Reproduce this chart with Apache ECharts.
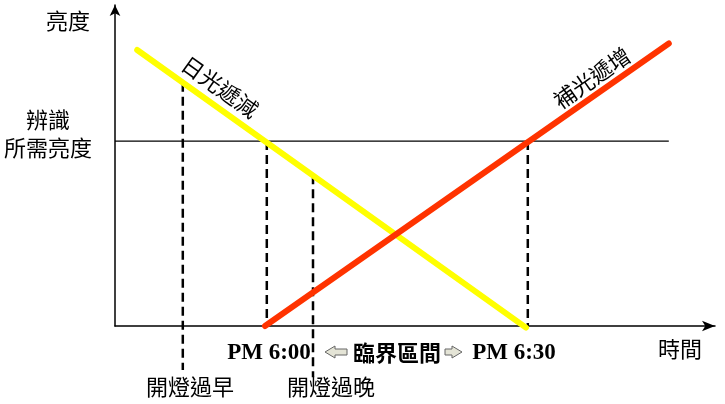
<!DOCTYPE html>
<html>
<head>
<meta charset="utf-8">
<script src="https://cdn.jsdelivr.net/npm/echarts@6/dist/echarts.min.js"></script>
<style>html,body{margin:0;padding:0;background:#fff;}#c{width:725px;height:404px;}</style>
</head>
<body>
<div id="c"></div>
<script>
// Conceptual units: time 0..100 (x), brightness 0..100 (y)
const daylight = [[3.7, 86], [68.5, -0.5]];      // 日光遞減
const supplement = [[25, 0], [92.3, 88]];        // 補光遞增
const requiredLevel = 57.6;                      // 辨識所需亮度
const thresholdEndX = 92.3;
const tooEarly = [[11.3, 75.8], [11.3, -13.7]];  // 開燈過早
const start600 = [[25.3, 57.6], [25.3, 0]];      // PM 6:00
const tooLate = [[33.0, 47.0], [33.0, -16]];     // 開燈過晚
const end630 = [[68.8, 57.6], [68.8, 0]];        // PM 6:30

const CJK = "'Noto Sans CJK TC','Noto Sans CJK SC',sans-serif";
const SERIF = "'Liberation Serif','DejaVu Serif',serif";

function dashed(data) {
  return {type: 'line', data: data, symbol: 'none', clip: false, z: 1, silent: true,
    lineStyle: {color: '#000', width: 2.5, type: [9, 5]}};
}
function txt(x, y, s, opt) {
  opt = opt || {};
  return {type: 'text', x: x, y: y, rotation: opt.rot || 0, z: 10,
    style: {text: s, fill: '#000', fontSize: opt.size || 22, fontFamily: opt.family || CJK,
      fontWeight: opt.weight || 'normal', align: 'center', verticalAlign: 'middle'}};
}

const chart = echarts.init(document.getElementById('c'), null, {renderer: 'canvas'});
chart.setOption({
  animation: false,
  backgroundColor: '#fff',
  grid: {left: 115, right: 10, top: 5, bottom: 78},
  xAxis: {type: 'value', min: 0, max: 100,
    axisLine: {show: true, onZero: false, symbol: ['none', 'arrow'], symbolSize: [8, 13],
      lineStyle: {color: '#000', width: 1.5}},
    axisTick: {show: false}, axisLabel: {show: false}, splitLine: {show: false}},
  yAxis: {type: 'value', min: 0, max: 100,
    axisLine: {show: true, onZero: false, symbol: ['none', 'arrow'], symbolSize: [8, 11],
      lineStyle: {color: '#000', width: 1.5}},
    axisTick: {show: false}, axisLabel: {show: false}, splitLine: {show: false}},
  series: [
    dashed(tooEarly), dashed(start600), dashed(tooLate), dashed(end630),
    {type: 'line', data: [[0, requiredLevel], [thresholdEndX, requiredLevel]], symbol: 'none', z: 2,
      lineStyle: {color: '#000', width: 1.3}},
    {type: 'line', data: daylight, symbol: 'none', clip: false, z: 3,
      lineStyle: {color: '#FFFF00', width: 6, cap: 'round'}},
    {type: 'line', data: supplement, symbol: 'none', clip: false, z: 3,
      lineStyle: {color: '#FF3300', width: 6, cap: 'round'}}
  ],
  graphic: [
    txt(68, 21, '亮度'),
    txt(48, 120, '辨識'),
    txt(48, 148, '所需亮度'),
    txt(220, 87, '日光遞減', {rot: -0.62}),
    txt(592, 78, '補光遞增', {rot: 0.61}),
    txt(269, 353, 'PM 6:00', {family: SERIF, weight: 'bold', size: 23}),
    txt(397, 353, '臨界區間', {weight: 'bold'}),
    txt(514, 353, 'PM 6:30', {family: SERIF, weight: 'bold', size: 23}),
    txt(680, 349, '時間'),
    txt(190, 387, '開燈過早'),
    txt(331, 387, '開燈過晚'),
    {type: 'polygon', z: 10, shape: {points: [[325, 352], [335, 346], [335, 349], [347, 349], [347, 355], [335, 355], [335, 358]]},
      style: {fill: '#e4e4d6', stroke: '#666', lineWidth: 1}},
    {type: 'polygon', z: 10, shape: {points: [[462, 352], [452, 346], [452, 349], [445, 349], [445, 355], [452, 355], [452, 358]]},
      style: {fill: '#e4e4d6', stroke: '#666', lineWidth: 1}}
  ]
});
</script>
</body>
</html>
